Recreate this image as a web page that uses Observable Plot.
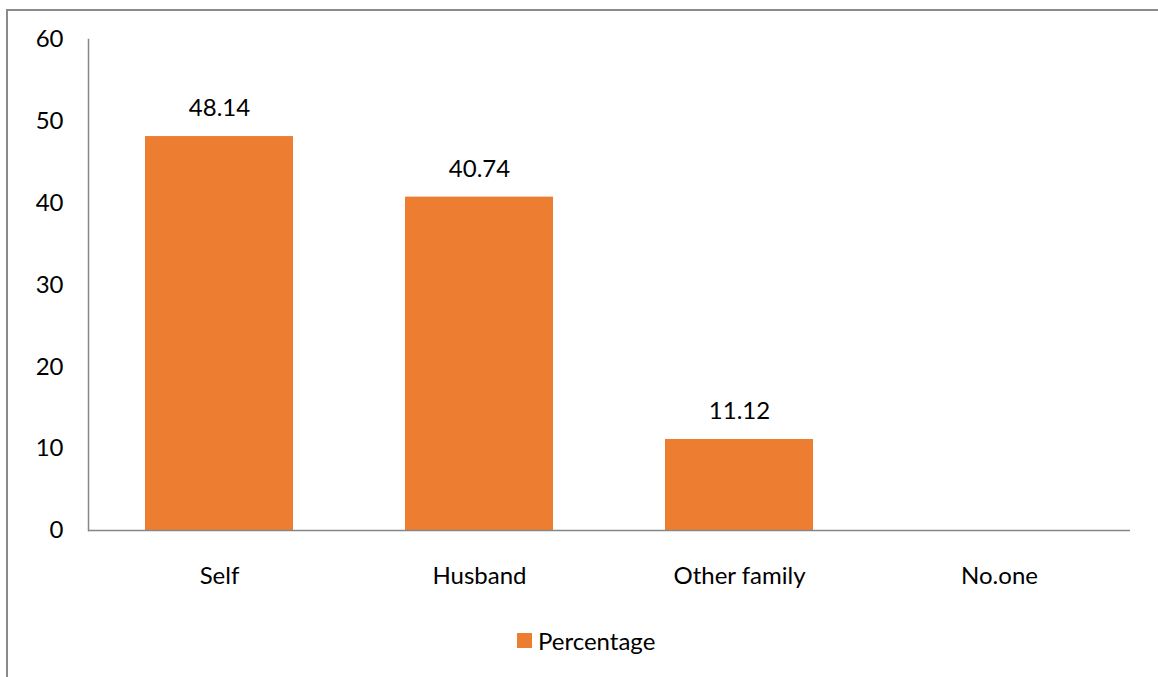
<!DOCTYPE html>
<html>
<head>
<meta charset="utf-8">
<script src="https://cdn.jsdelivr.net/npm/d3@7"></script>
<script src="https://cdn.jsdelivr.net/npm/@observablehq/plot@0.6"></script>
<style>
  html, body { margin: 0; padding: 0; background: #fff; }
  body { width: 1158px; height: 677px; position: relative; overflow: hidden; font-family: Lato, "Open Sans", sans-serif; }
  #frame { position: absolute; left: 6px; top: 9px; width: 1200px; height: 700px;
           border-top: 2px solid #8a8a8a; border-left: 2px solid #8a8a8a; box-sizing: border-box; }
  #chart { position: absolute; left: 0; top: 0; }
  #legend { position: absolute; left: 517px; top: 626px; display: flex; align-items: center; gap: 6px;
            font-size: 24px; color: #000; }
  #legend .sw { width: 15px; height: 15px; background: #ED7D31; }
</style>
</head>
<body>
<div id="frame"></div>
<div id="chart"></div>
<div id="legend"><div class="sw"></div><span>Percentage</span></div>
<script>
const categories = ["Self", "Husband", "Other family", "No.one"];
const percentages = [48.14, 40.74, 11.12, null];
const yTicks = [0, 10, 20, 30, 40, 50, 60];
const seriesName = "Percentage";

const data = categories.map((c, i) => ({category: c, value: percentages[i]}));
const labelled = data.filter(d => d.value != null);

const chart = Plot.plot({
  width: 1158,
  height: 610,
  marginLeft: 88,
  marginRight: 28,
  marginTop: 39,
  marginBottom: 80,
  style: {fontFamily: "Lato, 'Open Sans', sans-serif", fontSize: "24px", color: "#000", background: "transparent"},
  x: {domain: categories, paddingInner: 0.43, paddingOuter: 0.215, label: null},
  y: {domain: [0, 60], label: null},
  marks: [
    Plot.barY(labelled, {x: "category", y: "value", fill: "#ED7D31"}),
    Plot.text(labelled, {x: "category", y: "value", text: d => d.value.toFixed(2), dy: -28, fill: "#000", fontSize: 24}),
    Plot.axisY({ticks: yTicks, tickSize: 0, tickPadding: 25, fontSize: 24, fill: "#000", label: null}),
    Plot.axisX({tickSize: 0, tickPadding: 36, fontSize: 24, fill: "#000", label: null}),
    Plot.ruleY([0], {stroke: "#868686", strokeWidth: 1.5}),
    Plot.frame({anchor: "left", stroke: "#868686", strokeWidth: 1.5})
  ]
});
document.getElementById("chart").appendChild(chart);
</script>
</body>
</html>
